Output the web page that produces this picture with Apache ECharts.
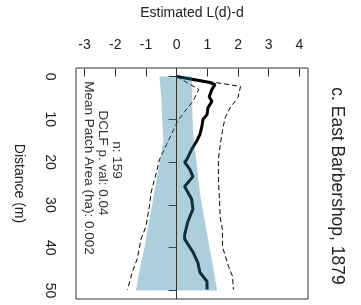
<!DOCTYPE html>
<html>
<head>
<meta charset="utf-8">
<script src="https://cdn.jsdelivr.net/npm/echarts@6/dist/echarts.min.js"></script>
<style>
  html, body { margin: 0; padding: 0; background: #fff; }
  #chart { width: 361px; height: 305px; }
</style>
</head>
<body>
<div id="chart"></div>
<script>
// 刻度
const xTicks = [-3, -2, -1, 0, 1, 2, 3, 4];
const yTicks = [0, 10, 20, 30, 40, 50];

// 观测值 L(d)-d
const obsD = [0, 1.4, 1.9, 3, 4.7, 5.8, 7.3, 8.9, 10, 11.7, 13.5, 15, 17, 19.4, 20, 21.7, 23.4, 25.7, 27, 28.7, 31, 34, 37, 38, 41, 43.5, 45.8, 47.9, 49.8];
const obsL = [0, 1.09, 1.25, 1.15, 1.06, 1.15, 1.02, 0.99, 0.86, 0.82, 0.76, 0.66, 0.49, 0.33, 0.26, 0.43, 0.53, 0.26, 0.36, 0.49, 0.53, 0.36, 0.26, 0.26, 0.53, 0.69, 0.76, 0.99, 0.99];

// 上包络线（虚线）
const upD = [0, 2.3, 4.9, 7.2, 9.6, 12.8, 15.9, 19.4, 24, 28, 33, 35.7, 39.7, 44.4, 46.7, 49.8];
const upL = [0, 2.08, 2.0, 1.75, 1.58, 1.49, 1.42, 1.36, 1.36, 1.39, 1.42, 1.49, 1.49, 1.69, 1.82, 1.85];

// 下包络线（虚线）
const loD = [0, 3, 5.8, 8.2, 10.5, 13.5, 15.9, 19.4, 22.4, 27, 30.4, 35, 38, 42.7, 45.8, 49.8];
const loL = [0, 0.72, 0.53, 0.26, 0.03, -0.17, -0.33, -0.56, -0.66, -0.83, -0.89, -1.0, -1.16, -1.29, -1.45, -1.6];

// 阴影带
const bandD = [0, 5, 10, 15, 20, 25, 30, 35, 40, 45, 50];
const bandLo = [-0.56, -0.5, -0.47, -0.43, -0.55, -0.68, -0.8, -0.93, -1.05, -1.2, -1.33];
const bandHi = [0.5, 0.5, 0.52, 0.55, 0.65, 0.72, 0.82, 0.95, 1.07, 1.2, 1.32];

// 注释
const notes = ['n: 159', 'DCLF p. val: 0.04', 'Mean Patch Area (ha): 0.002'];
const title = 'c. East Barbershop, 1879';

const FONT = '"Liberation Sans", Arial, sans-serif';
const zip = (a, b) => a.map((v, i) => [v, b[i]]);

const chart = echarts.init(document.getElementById('chart'));

const notePos = [[117, 160], [103, 163], [89, 168]];

chart.setOption({
  animation: false,
  grid: {
    left: 76, top: 68, width: 232, height: 231,
    show: true, borderColor: '#333', borderWidth: 1, backgroundColor: 'transparent'
  },
  xAxis: {
    type: 'value', position: 'top', min: -3.28, max: 4.28,
    name: 'Estimated L(d)-d', nameLocation: 'middle', nameGap: 48,
    nameTextStyle: { fontFamily: FONT, fontSize: 14, color: '#222' },
    axisLine: { show: false },
    axisTick: { show: true, length: 8, lineStyle: { color: '#333' }, customValues: xTicks },
    axisLabel: { fontFamily: FONT, fontSize: 14, color: '#222', margin: 16, customValues: xTicks },
    splitLine: { show: false }
  },
  yAxis: {
    type: 'value', inverse: true, min: -2, max: 52,
    name: 'Distance (m)', nameLocation: 'middle', nameGap: 50, nameRotate: -90,
    nameTextStyle: { fontFamily: FONT, fontSize: 14, color: '#222' },
    axisLine: { show: false },
    axisTick: { show: true, length: 8, lineStyle: { color: '#333' }, customValues: yTicks },
    axisLabel: { fontFamily: FONT, fontSize: 14, color: '#222', margin: 19, rotate: -90, customValues: yTicks },
    splitLine: { show: false }
  },
  series: [
    {
      type: 'line', data: zip(obsL, obsD), z: 2,
      showSymbol: false, lineStyle: { color: '#000', width: 3 },
      markLine: {
        silent: true, symbol: 'none', label: { show: false },
        lineStyle: { color: '#333', width: 1, type: 'solid' },
        data: [{ xAxis: 0 }]
      }
    },
    {
      type: 'line', data: zip(upL, upD), z: 2,
      showSymbol: false, lineStyle: { color: '#000', width: 1, type: [5, 3] }
    },
    {
      type: 'line', data: zip(loL, loD), z: 2,
      showSymbol: false, lineStyle: { color: '#000', width: 1, type: [5, 3] }
    },
    {
      type: 'custom', z: 3,
      data: bandD.map((d, i) => [bandLo[i], d, bandHi[i]]),
      renderItem: function (params, api) {
        if (params.dataIndex !== 0) return null;
        const pts = [];
        bandD.forEach((d, i) => pts.push(api.coord([bandLo[i], d])));
        for (let i = bandD.length - 1; i >= 0; i--) pts.push(api.coord([bandHi[i], bandD[i]]));
        return {
          type: 'polygon',
          shape: { points: pts },
          style: { fill: 'rgba(35,128,160,0.376)' }
        };
      }
    }
  ],
  graphic: [
    {
      type: 'text', x: 337, y: 186, rotation: -Math.PI / 2,
      style: { text: title, font: '17.5px ' + FONT, fill: '#222', align: 'center', verticalAlign: 'middle' }
    }
  ].concat(notes.map((t, i) => ({
    type: 'text', x: notePos[i][0], y: notePos[i][1], rotation: -Math.PI / 2,
    style: { text: t, font: '13.5px ' + FONT, fill: '#333', align: 'center', verticalAlign: 'middle' }
  })))
});
</script>
</body>
</html>
